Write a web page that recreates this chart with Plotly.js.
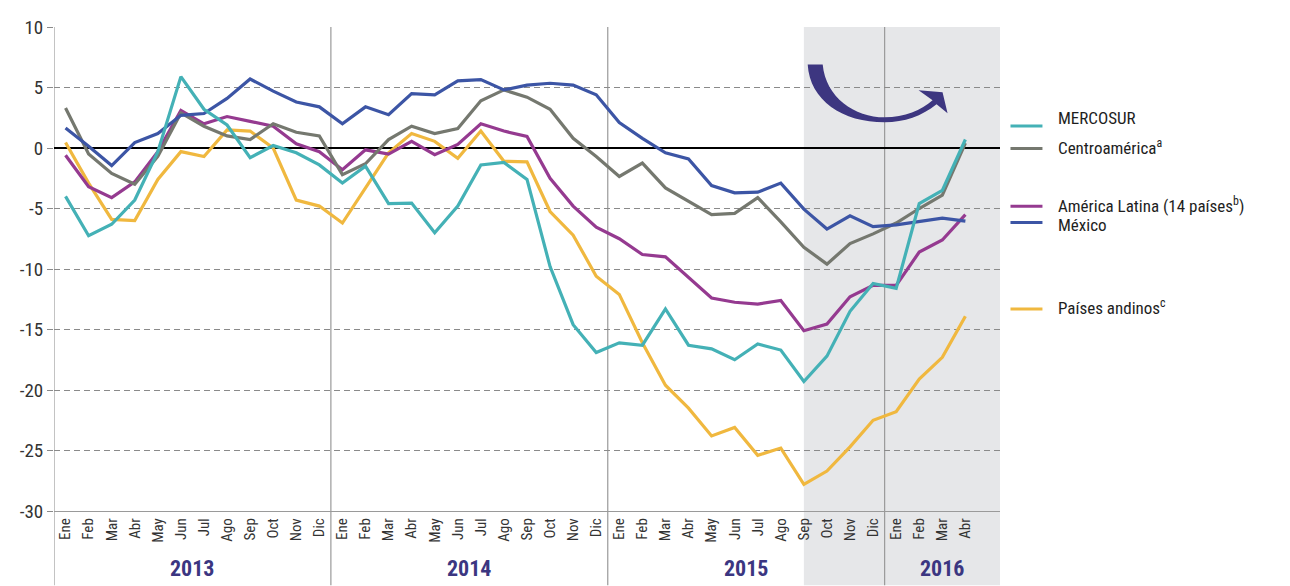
<!DOCTYPE html>
<html><head><meta charset="utf-8">
<script src="https://cdn.plot.ly/plotly-3.0.1.min.js"></script>
<style>html,body{margin:0;padding:0;background:#fff}#chart{width:1290px;height:586px}</style>
</head><body><div id="chart"></div>
<script>
const years = ["2013","2014","2015","2016"];
const monthNames = ["Ene","Feb","Mar","Abr","May","Jun","Jul","Ago","Sep","Oct","Nov","Dic"];
const months2016 = ["Ene","Feb","Mar","Abr"];
const categories = [];
const monthLabels = [];
years.forEach(y => (y === "2016" ? months2016 : monthNames).forEach(m => { categories.push(m + " " + y); monthLabels.push(m); }));
const yTickVals = [-30,-25,-20,-15,-10,-5,0,5,10];
const yTickText = ["-30","-25","-20","-15","-10","-5","0","5","10"];

const mercosur = [-4.0,-7.25,-6.3,-4.3,-0.3,5.9,3.2,1.9,-0.8,0.2,-0.4,-1.4,
  -2.9,-1.5,-4.6,-4.55,-7.0,-4.8,-1.4,-1.2,-2.6,-9.8,-14.6,-16.9,
  -16.1,-16.3,-13.3,-16.3,-16.6,-17.5,-16.2,-16.7,-19.3,-17.2,-13.5,-11.2,
  -11.6,-4.6,-3.5,0.7];
const centroamerica = [3.3,-0.5,-2.1,-3.0,-0.7,2.9,1.8,1.0,0.7,2.0,1.3,1.0,
  -2.2,-1.3,0.7,1.8,1.2,1.6,3.9,4.8,4.2,3.2,0.8,-0.7,
  -2.35,-1.25,-3.3,-4.4,-5.5,-5.4,-4.1,-6.1,-8.2,-9.6,-7.9,-7.1,
  -6.2,-5.0,-3.9,0.4];
const americaLatina = [-0.6,-3.2,-4.1,-2.8,-0.3,3.1,2.0,2.6,2.2,1.8,0.35,-0.3,
  -1.8,-0.15,-0.5,0.55,-0.55,0.3,2.0,1.4,0.95,-2.5,-4.8,-6.55,
  -7.5,-8.8,-9.0,-10.7,-12.4,-12.75,-12.9,-12.6,-15.1,-14.55,-12.3,-11.35,
  -11.35,-8.6,-7.6,-5.5];
const mexico = [1.65,0.15,-1.45,0.45,1.2,2.7,2.85,4.1,5.7,4.7,3.8,3.4,
  2.0,3.4,2.75,4.5,4.4,5.55,5.65,4.8,5.2,5.35,5.2,4.4,
  2.1,0.8,-0.4,-0.9,-3.1,-3.7,-3.65,-2.9,-5.05,-6.7,-5.6,-6.5,
  -6.35,-6.05,-5.8,-6.05];
const paisesAndinos = [0.45,-2.9,-5.9,-6.0,-2.6,-0.3,-0.7,1.5,1.4,0.0,-4.3,-4.8,
  -6.2,-3.3,-0.4,1.2,0.55,-0.85,1.4,-1.1,-1.15,-5.25,-7.2,-10.6,
  -12.1,-16.1,-19.6,-21.5,-23.8,-23.1,-25.4,-24.8,-27.8,-26.7,-24.7,-22.5,
  -21.8,-19.1,-17.3,-13.9];

const seriesNames = ["MERCOSUR","Centroamérica<sup>a</sup>","América Latina (14 países<sup>b</sup>)","México","Países andinos<sup>c</sup>"];
const seriesData = [mercosur, centroamerica, americaLatina, mexico, paisesAndinos];
const colors = ["#44b1b6","#75786f","#953a90","#3c55a5","#f0b83f"];
const drawOrder = [4,2,1,3,0];

const traces = drawOrder.map(i => ({
  type:"scatter", mode:"lines", x:categories, y:seriesData[i], name:seriesNames[i],
  line:{color:colors[i], width:3.2}, showlegend:false, hoverinfo:"skip"
}));

const FONT = "'Liberation Sans Narrow','Roboto Condensed','DejaVu Sans Condensed','Arial Narrow',sans-serif";

// plot geometry (px)
const L = 53.5, W = 947, T = 26.5, H = 485, B = T + H;
const px = x => ((x - L) / W).toFixed(5);
const py = y => ((B - y) / H).toFixed(5);
const bottomPaper = (B - 586) / H;

const shapes = [];
shapes.push({type:"rect", xref:"x", yref:"paper", x0:32, x1:40.5, y0:bottomPaper, y1:1, fillcolor:"#e6e7e9", line:{width:0}, layer:"below"});
[-0.5, 11.5, 23.5, 35.5].forEach(v => shapes.push({type:"line", xref:"x", yref:"paper", x0:v, x1:v, y0:bottomPaper, y1:1, line:{color:"#9a9a9a", width:1.2}, layer:"below"}));

// curved arrow (pixel path converted to paper)
const arrowPts = "M 808,64 L 823,64 C 826,97 855,117 885,117 C 905,117 922,110 933,100 L 919,90 L 943,92 L 948,113 L 937,104 C 922,116 905,122 885,122 C 843,122 810,100 808,64 Z";
const arrowPath = arrowPts.replace(/(-?[\d.]+),(-?[\d.]+)/g, (m,a,b) => px(+a) + "," + py(+b));
shapes.push({type:"path", xref:"paper", yref:"paper", path:arrowPath, fillcolor:"#3d3680", line:{width:0}});

// legend
const legendY = [125.7, 148.3, 206, 222.3, 309];
const legendTextY = [117.7, 146.7, 205, 225, 306.7];
const annotations = [];
seriesNames.forEach((n,i) => {
  shapes.push({type:"line", xref:"paper", yref:"paper", x0:px(1011), x1:px(1043), y0:py(legendY[i]), y1:py(legendY[i]), line:{color:colors[i], width:3}});
  annotations.push({xref:"paper", yref:"paper", x:px(1057), y:py(legendTextY[i]), text:n, showarrow:false, xanchor:"left", yanchor:"middle",
    font:{family:FONT, size:17, color:"#1e1e1e"}});
});
// year labels
const yearCenters = [5.5, 17.5, 29.5, 38];
years.forEach((y,i) => annotations.push({xref:"x", yref:"paper", x:yearCenters[i], y:py(569), text:"<b>"+y+"</b>", showarrow:false, xanchor:"center", yanchor:"middle",
  font:{family:FONT, size:22, color:"#3b3681"}}));

const layout = {
  width:1290, height:586,
  margin:{l:L, r:1290-L-W, t:T, b:586-B},
  paper_bgcolor:"#ffffff", plot_bgcolor:"rgba(0,0,0,0)",
  showlegend:false,
  xaxis:{type:"category", categoryorder:"array", categoryarray:categories, range:[-0.5,40.5],
    tickvals:categories, ticktext:monthLabels, tickangle:-90, showgrid:false, zeroline:false,
    showline:true, linecolor:"#9a9a9a", linewidth:1.2, ticks:"", ticklen:0,
    tickfont:{family:FONT, size:15, color:"#333"}},
  yaxis:{range:[-30,10], tickvals:yTickVals, ticktext:yTickText, showgrid:true, gridcolor:"#8a8a8a", gridwidth:1, griddash:"6px,4px",
    zeroline:true, zerolinecolor:"#000", zerolinewidth:2.5, showline:false, ticks:"outside", ticklen:6, tickcolor:"#8a8a8a", tickwidth:1,
    tickfont:{family:FONT, size:19, color:"#333"}},
  shapes:shapes, annotations:annotations
};
Plotly.newPlot("chart", traces, layout, {staticPlot:true, displayModeBar:false});
</script></body></html>
